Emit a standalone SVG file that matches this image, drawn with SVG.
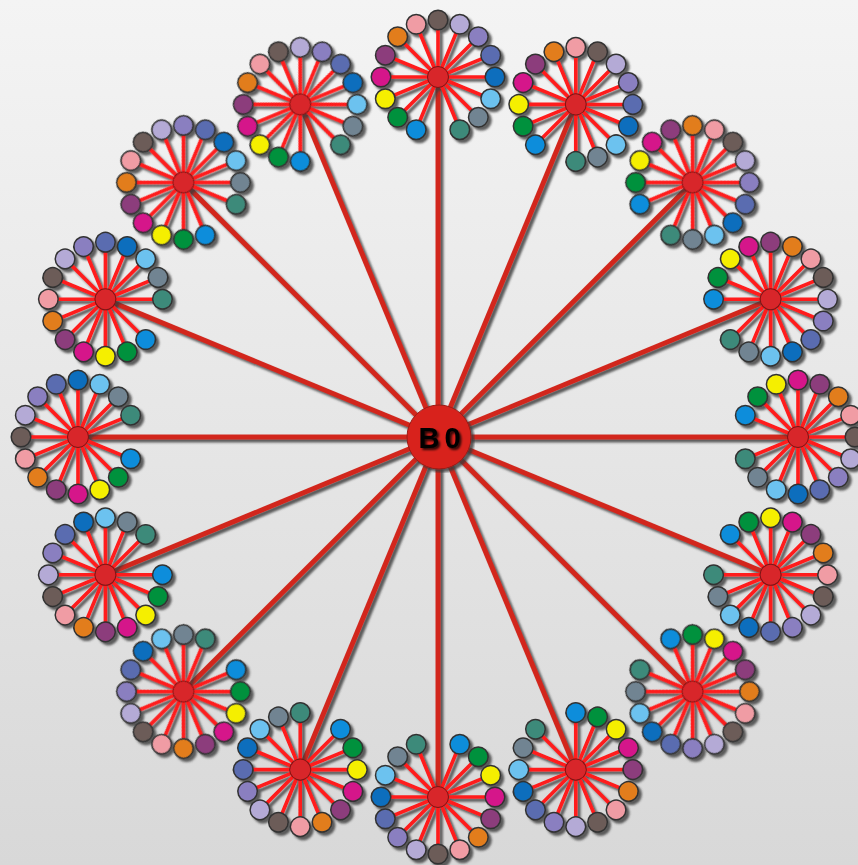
<svg xmlns="http://www.w3.org/2000/svg" width="858" height="865" viewBox="0 0 858 865">
<style>
.sp{stroke:#d2281e;stroke-width:5;fill:none}
.ll{stroke:#ff1a1a;stroke-width:3.6;fill:none}
.hubc{fill:#d8262a;stroke:#7a1414;stroke-width:1}
.lf{stroke:#333;stroke-width:1.5}
.l1{fill:#0a8ddb}.l2{fill:#00913c}.l3{fill:#f5ef00}.l4{fill:#d5168a}.l5{fill:#8c3c7c}
.l6{fill:#e27d1e}.l7{fill:#f09ca4}.l8{fill:#6c5c58}.l9{fill:#b4aad6}.l10{fill:#8a7fc0}
.l11{fill:#5a6cb0}.l12{fill:#0a6ebd}.l13{fill:#6cc2ef}.l14{fill:#718492}.l15{fill:#3e8a7a}
.lbl{font-family:"Liberation Sans",Arial,sans-serif;font-weight:bold;font-size:29px;fill:#000;letter-spacing:5px}
</style>
<defs>
<linearGradient id="bg" x1="0" y1="0" x2="0" y2="1">
<stop offset="0" stop-color="#f4f4f4"/>
<stop offset="1" stop-color="#d8d8d8"/>
</linearGradient>
<filter id="sh" x="-5%" y="-5%" width="110%" height="110%">
<feGaussianBlur in="SourceAlpha" stdDeviation="1.2"/>
<feOffset dx="2.8" dy="2.8" result="o"/>
<feFlood flood-color="#3a3a3a" flood-opacity="0.8"/>
<feComposite in2="o" operator="in"/>
<feMerge><feMergeNode/><feMergeNode in="SourceGraphic"/></feMerge>
</filter>
<filter id="tsh" x="-20%" y="-20%" width="140%" height="140%">
<feGaussianBlur in="SourceAlpha" stdDeviation="1.2"/>
<feOffset dx="1.5" dy="1.5" result="o"/>
<feFlood flood-color="#000" flood-opacity="0.8"/>
<feComposite in2="o" operator="in"/>
<feMerge><feMergeNode/><feMergeNode in="SourceGraphic"/></feMerge>
</filter>
</defs>
<rect width="858" height="865" fill="url(#bg)"/>
<g id="connectors" filter="url(#sh)">
<line class="sp" x1="438" y1="437" x2="438" y2="77"/>
<line class="sp" x1="438" y1="437" x2="575.77" y2="104.4"/>
<line class="sp" x1="438" y1="437" x2="692.56" y2="182.44"/>
<line class="sp" x1="438" y1="437" x2="770.6" y2="299.23"/>
<line class="sp" x1="438" y1="437" x2="798" y2="437"/>
<line class="sp" x1="438" y1="437" x2="770.6" y2="574.77"/>
<line class="sp" x1="438" y1="437" x2="692.56" y2="691.56"/>
<line class="sp" x1="438" y1="437" x2="575.77" y2="769.6"/>
<line class="sp" x1="438" y1="437" x2="438" y2="797"/>
<line class="sp" x1="438" y1="437" x2="300.23" y2="769.6"/>
<line class="sp" x1="438" y1="437" x2="183.44" y2="691.56"/>
<line class="sp" x1="438" y1="437" x2="105.4" y2="574.77"/>
<line class="sp" x1="438" y1="437" x2="78" y2="437"/>
<line class="sp" x1="438" y1="437" x2="105.4" y2="299.23"/>
<line class="sp" x1="438" y1="437" x2="183.44" y2="182.44"/>
<line class="sp" x1="438" y1="437" x2="300.23" y2="104.4"/>
</g>
<g id="clusters" filter="url(#sh)">
<g id="hub0" transform="translate(438,77) rotate(0)">
<path class="ll" d="M0 0L-21.8 52.7M0 0L-40.3 40.3M0 0L-52.7 21.8M0 0L-57 0M0 0L-52.7 -21.8M0 0L-40.3 -40.3M0 0L-21.8 -52.7M0 0L0 -57M0 0L21.8 -52.7M0 0L40.3 -40.3M0 0L52.7 -21.8M0 0L57 0M0 0L52.7 21.8M0 0L40.3 40.3M0 0L21.8 52.7"/>
<circle class="lf l1" cx="-21.8" cy="52.7" r="9.8"/><circle class="lf l2" cx="-40.3" cy="40.3" r="9.8"/><circle class="lf l3" cx="-52.7" cy="21.8" r="9.8"/><circle class="lf l4" cx="-57" cy="0" r="9.8"/><circle class="lf l5" cx="-52.7" cy="-21.8" r="9.8"/><circle class="lf l6" cx="-40.3" cy="-40.3" r="9.8"/><circle class="lf l7" cx="-21.8" cy="-52.7" r="9.8"/><circle class="lf l8" cx="0" cy="-57" r="9.8"/><circle class="lf l9" cx="21.8" cy="-52.7" r="9.8"/><circle class="lf l10" cx="40.3" cy="-40.3" r="9.8"/><circle class="lf l11" cx="52.7" cy="-21.8" r="9.8"/><circle class="lf l12" cx="57" cy="0" r="9.8"/><circle class="lf l13" cx="52.7" cy="21.8" r="9.8"/><circle class="lf l14" cx="40.3" cy="40.3" r="9.8"/><circle class="lf l15" cx="21.8" cy="52.7" r="9.8"/>
<circle class="hubc" cx="0" cy="0" r="10.5"/>
</g>
<g id="hub1" transform="translate(575.77,104.4) rotate(22.5)">
<path class="ll" d="M0 0L-21.8 52.7M0 0L-40.3 40.3M0 0L-52.7 21.8M0 0L-57 0M0 0L-52.7 -21.8M0 0L-40.3 -40.3M0 0L-21.8 -52.7M0 0L0 -57M0 0L21.8 -52.7M0 0L40.3 -40.3M0 0L52.7 -21.8M0 0L57 0M0 0L52.7 21.8M0 0L40.3 40.3M0 0L21.8 52.7"/>
<circle class="lf l1" cx="-21.8" cy="52.7" r="9.8"/><circle class="lf l2" cx="-40.3" cy="40.3" r="9.8"/><circle class="lf l3" cx="-52.7" cy="21.8" r="9.8"/><circle class="lf l4" cx="-57" cy="0" r="9.8"/><circle class="lf l5" cx="-52.7" cy="-21.8" r="9.8"/><circle class="lf l6" cx="-40.3" cy="-40.3" r="9.8"/><circle class="lf l7" cx="-21.8" cy="-52.7" r="9.8"/><circle class="lf l8" cx="0" cy="-57" r="9.8"/><circle class="lf l9" cx="21.8" cy="-52.7" r="9.8"/><circle class="lf l10" cx="40.3" cy="-40.3" r="9.8"/><circle class="lf l11" cx="52.7" cy="-21.8" r="9.8"/><circle class="lf l12" cx="57" cy="0" r="9.8"/><circle class="lf l13" cx="52.7" cy="21.8" r="9.8"/><circle class="lf l14" cx="40.3" cy="40.3" r="9.8"/><circle class="lf l15" cx="21.8" cy="52.7" r="9.8"/>
<circle class="hubc" cx="0" cy="0" r="10.5"/>
</g>
<g id="hub2" transform="translate(692.56,182.44) rotate(45)">
<path class="ll" d="M0 0L-21.8 52.7M0 0L-40.3 40.3M0 0L-52.7 21.8M0 0L-57 0M0 0L-52.7 -21.8M0 0L-40.3 -40.3M0 0L-21.8 -52.7M0 0L0 -57M0 0L21.8 -52.7M0 0L40.3 -40.3M0 0L52.7 -21.8M0 0L57 0M0 0L52.7 21.8M0 0L40.3 40.3M0 0L21.8 52.7"/>
<circle class="lf l1" cx="-21.8" cy="52.7" r="9.8"/><circle class="lf l2" cx="-40.3" cy="40.3" r="9.8"/><circle class="lf l3" cx="-52.7" cy="21.8" r="9.8"/><circle class="lf l4" cx="-57" cy="0" r="9.8"/><circle class="lf l5" cx="-52.7" cy="-21.8" r="9.8"/><circle class="lf l6" cx="-40.3" cy="-40.3" r="9.8"/><circle class="lf l7" cx="-21.8" cy="-52.7" r="9.8"/><circle class="lf l8" cx="0" cy="-57" r="9.8"/><circle class="lf l9" cx="21.8" cy="-52.7" r="9.8"/><circle class="lf l10" cx="40.3" cy="-40.3" r="9.8"/><circle class="lf l11" cx="52.7" cy="-21.8" r="9.8"/><circle class="lf l12" cx="57" cy="0" r="9.8"/><circle class="lf l13" cx="52.7" cy="21.8" r="9.8"/><circle class="lf l14" cx="40.3" cy="40.3" r="9.8"/><circle class="lf l15" cx="21.8" cy="52.7" r="9.8"/>
<circle class="hubc" cx="0" cy="0" r="10.5"/>
</g>
<g id="hub3" transform="translate(770.6,299.23) rotate(67.5)">
<path class="ll" d="M0 0L-21.8 52.7M0 0L-40.3 40.3M0 0L-52.7 21.8M0 0L-57 0M0 0L-52.7 -21.8M0 0L-40.3 -40.3M0 0L-21.8 -52.7M0 0L0 -57M0 0L21.8 -52.7M0 0L40.3 -40.3M0 0L52.7 -21.8M0 0L57 0M0 0L52.7 21.8M0 0L40.3 40.3M0 0L21.8 52.7"/>
<circle class="lf l1" cx="-21.8" cy="52.7" r="9.8"/><circle class="lf l2" cx="-40.3" cy="40.3" r="9.8"/><circle class="lf l3" cx="-52.7" cy="21.8" r="9.8"/><circle class="lf l4" cx="-57" cy="0" r="9.8"/><circle class="lf l5" cx="-52.7" cy="-21.8" r="9.8"/><circle class="lf l6" cx="-40.3" cy="-40.3" r="9.8"/><circle class="lf l7" cx="-21.8" cy="-52.7" r="9.8"/><circle class="lf l8" cx="0" cy="-57" r="9.8"/><circle class="lf l9" cx="21.8" cy="-52.7" r="9.8"/><circle class="lf l10" cx="40.3" cy="-40.3" r="9.8"/><circle class="lf l11" cx="52.7" cy="-21.8" r="9.8"/><circle class="lf l12" cx="57" cy="0" r="9.8"/><circle class="lf l13" cx="52.7" cy="21.8" r="9.8"/><circle class="lf l14" cx="40.3" cy="40.3" r="9.8"/><circle class="lf l15" cx="21.8" cy="52.7" r="9.8"/>
<circle class="hubc" cx="0" cy="0" r="10.5"/>
</g>
<g id="hub4" transform="translate(798,437) rotate(90)">
<path class="ll" d="M0 0L-21.8 52.7M0 0L-40.3 40.3M0 0L-52.7 21.8M0 0L-57 0M0 0L-52.7 -21.8M0 0L-40.3 -40.3M0 0L-21.8 -52.7M0 0L0 -57M0 0L21.8 -52.7M0 0L40.3 -40.3M0 0L52.7 -21.8M0 0L57 0M0 0L52.7 21.8M0 0L40.3 40.3M0 0L21.8 52.7"/>
<circle class="lf l1" cx="-21.8" cy="52.7" r="9.8"/><circle class="lf l2" cx="-40.3" cy="40.3" r="9.8"/><circle class="lf l3" cx="-52.7" cy="21.8" r="9.8"/><circle class="lf l4" cx="-57" cy="0" r="9.8"/><circle class="lf l5" cx="-52.7" cy="-21.8" r="9.8"/><circle class="lf l6" cx="-40.3" cy="-40.3" r="9.8"/><circle class="lf l7" cx="-21.8" cy="-52.7" r="9.8"/><circle class="lf l8" cx="0" cy="-57" r="9.8"/><circle class="lf l9" cx="21.8" cy="-52.7" r="9.8"/><circle class="lf l10" cx="40.3" cy="-40.3" r="9.8"/><circle class="lf l11" cx="52.7" cy="-21.8" r="9.8"/><circle class="lf l12" cx="57" cy="0" r="9.8"/><circle class="lf l13" cx="52.7" cy="21.8" r="9.8"/><circle class="lf l14" cx="40.3" cy="40.3" r="9.8"/><circle class="lf l15" cx="21.8" cy="52.7" r="9.8"/>
<circle class="hubc" cx="0" cy="0" r="10.5"/>
</g>
<g id="hub5" transform="translate(770.6,574.77) rotate(112.5)">
<path class="ll" d="M0 0L-21.8 52.7M0 0L-40.3 40.3M0 0L-52.7 21.8M0 0L-57 0M0 0L-52.7 -21.8M0 0L-40.3 -40.3M0 0L-21.8 -52.7M0 0L0 -57M0 0L21.8 -52.7M0 0L40.3 -40.3M0 0L52.7 -21.8M0 0L57 0M0 0L52.7 21.8M0 0L40.3 40.3M0 0L21.8 52.7"/>
<circle class="lf l1" cx="-21.8" cy="52.7" r="9.8"/><circle class="lf l2" cx="-40.3" cy="40.3" r="9.8"/><circle class="lf l3" cx="-52.7" cy="21.8" r="9.8"/><circle class="lf l4" cx="-57" cy="0" r="9.8"/><circle class="lf l5" cx="-52.7" cy="-21.8" r="9.8"/><circle class="lf l6" cx="-40.3" cy="-40.3" r="9.8"/><circle class="lf l7" cx="-21.8" cy="-52.7" r="9.8"/><circle class="lf l8" cx="0" cy="-57" r="9.8"/><circle class="lf l9" cx="21.8" cy="-52.7" r="9.8"/><circle class="lf l10" cx="40.3" cy="-40.3" r="9.8"/><circle class="lf l11" cx="52.7" cy="-21.8" r="9.8"/><circle class="lf l12" cx="57" cy="0" r="9.8"/><circle class="lf l13" cx="52.7" cy="21.8" r="9.8"/><circle class="lf l14" cx="40.3" cy="40.3" r="9.8"/><circle class="lf l15" cx="21.8" cy="52.7" r="9.8"/>
<circle class="hubc" cx="0" cy="0" r="10.5"/>
</g>
<g id="hub6" transform="translate(692.56,691.56) rotate(135)">
<path class="ll" d="M0 0L-21.8 52.7M0 0L-40.3 40.3M0 0L-52.7 21.8M0 0L-57 0M0 0L-52.7 -21.8M0 0L-40.3 -40.3M0 0L-21.8 -52.7M0 0L0 -57M0 0L21.8 -52.7M0 0L40.3 -40.3M0 0L52.7 -21.8M0 0L57 0M0 0L52.7 21.8M0 0L40.3 40.3M0 0L21.8 52.7"/>
<circle class="lf l1" cx="-21.8" cy="52.7" r="9.8"/><circle class="lf l2" cx="-40.3" cy="40.3" r="9.8"/><circle class="lf l3" cx="-52.7" cy="21.8" r="9.8"/><circle class="lf l4" cx="-57" cy="0" r="9.8"/><circle class="lf l5" cx="-52.7" cy="-21.8" r="9.8"/><circle class="lf l6" cx="-40.3" cy="-40.3" r="9.8"/><circle class="lf l7" cx="-21.8" cy="-52.7" r="9.8"/><circle class="lf l8" cx="0" cy="-57" r="9.8"/><circle class="lf l9" cx="21.8" cy="-52.7" r="9.8"/><circle class="lf l10" cx="40.3" cy="-40.3" r="9.8"/><circle class="lf l11" cx="52.7" cy="-21.8" r="9.8"/><circle class="lf l12" cx="57" cy="0" r="9.8"/><circle class="lf l13" cx="52.7" cy="21.8" r="9.8"/><circle class="lf l14" cx="40.3" cy="40.3" r="9.8"/><circle class="lf l15" cx="21.8" cy="52.7" r="9.8"/>
<circle class="hubc" cx="0" cy="0" r="10.5"/>
</g>
<g id="hub7" transform="translate(575.77,769.6) rotate(157.5)">
<path class="ll" d="M0 0L-21.8 52.7M0 0L-40.3 40.3M0 0L-52.7 21.8M0 0L-57 0M0 0L-52.7 -21.8M0 0L-40.3 -40.3M0 0L-21.8 -52.7M0 0L0 -57M0 0L21.8 -52.7M0 0L40.3 -40.3M0 0L52.7 -21.8M0 0L57 0M0 0L52.7 21.8M0 0L40.3 40.3M0 0L21.8 52.7"/>
<circle class="lf l1" cx="-21.8" cy="52.7" r="9.8"/><circle class="lf l2" cx="-40.3" cy="40.3" r="9.8"/><circle class="lf l3" cx="-52.7" cy="21.8" r="9.8"/><circle class="lf l4" cx="-57" cy="0" r="9.8"/><circle class="lf l5" cx="-52.7" cy="-21.8" r="9.8"/><circle class="lf l6" cx="-40.3" cy="-40.3" r="9.8"/><circle class="lf l7" cx="-21.8" cy="-52.7" r="9.8"/><circle class="lf l8" cx="0" cy="-57" r="9.8"/><circle class="lf l9" cx="21.8" cy="-52.7" r="9.8"/><circle class="lf l10" cx="40.3" cy="-40.3" r="9.8"/><circle class="lf l11" cx="52.7" cy="-21.8" r="9.8"/><circle class="lf l12" cx="57" cy="0" r="9.8"/><circle class="lf l13" cx="52.7" cy="21.8" r="9.8"/><circle class="lf l14" cx="40.3" cy="40.3" r="9.8"/><circle class="lf l15" cx="21.8" cy="52.7" r="9.8"/>
<circle class="hubc" cx="0" cy="0" r="10.5"/>
</g>
<g id="hub8" transform="translate(438,797) rotate(180)">
<path class="ll" d="M0 0L-21.8 52.7M0 0L-40.3 40.3M0 0L-52.7 21.8M0 0L-57 0M0 0L-52.7 -21.8M0 0L-40.3 -40.3M0 0L-21.8 -52.7M0 0L0 -57M0 0L21.8 -52.7M0 0L40.3 -40.3M0 0L52.7 -21.8M0 0L57 0M0 0L52.7 21.8M0 0L40.3 40.3M0 0L21.8 52.7"/>
<circle class="lf l1" cx="-21.8" cy="52.7" r="9.8"/><circle class="lf l2" cx="-40.3" cy="40.3" r="9.8"/><circle class="lf l3" cx="-52.7" cy="21.8" r="9.8"/><circle class="lf l4" cx="-57" cy="0" r="9.8"/><circle class="lf l5" cx="-52.7" cy="-21.8" r="9.8"/><circle class="lf l6" cx="-40.3" cy="-40.3" r="9.8"/><circle class="lf l7" cx="-21.8" cy="-52.7" r="9.8"/><circle class="lf l8" cx="0" cy="-57" r="9.8"/><circle class="lf l9" cx="21.8" cy="-52.7" r="9.8"/><circle class="lf l10" cx="40.3" cy="-40.3" r="9.8"/><circle class="lf l11" cx="52.7" cy="-21.8" r="9.8"/><circle class="lf l12" cx="57" cy="0" r="9.8"/><circle class="lf l13" cx="52.7" cy="21.8" r="9.8"/><circle class="lf l14" cx="40.3" cy="40.3" r="9.8"/><circle class="lf l15" cx="21.8" cy="52.7" r="9.8"/>
<circle class="hubc" cx="0" cy="0" r="10.5"/>
</g>
<g id="hub9" transform="translate(300.23,769.6) rotate(202.5)">
<path class="ll" d="M0 0L-21.8 52.7M0 0L-40.3 40.3M0 0L-52.7 21.8M0 0L-57 0M0 0L-52.7 -21.8M0 0L-40.3 -40.3M0 0L-21.8 -52.7M0 0L0 -57M0 0L21.8 -52.7M0 0L40.3 -40.3M0 0L52.7 -21.8M0 0L57 0M0 0L52.7 21.8M0 0L40.3 40.3M0 0L21.8 52.7"/>
<circle class="lf l1" cx="-21.8" cy="52.7" r="9.8"/><circle class="lf l2" cx="-40.3" cy="40.3" r="9.8"/><circle class="lf l3" cx="-52.7" cy="21.8" r="9.8"/><circle class="lf l4" cx="-57" cy="0" r="9.8"/><circle class="lf l5" cx="-52.7" cy="-21.8" r="9.8"/><circle class="lf l6" cx="-40.3" cy="-40.3" r="9.8"/><circle class="lf l7" cx="-21.8" cy="-52.7" r="9.8"/><circle class="lf l8" cx="0" cy="-57" r="9.8"/><circle class="lf l9" cx="21.8" cy="-52.7" r="9.8"/><circle class="lf l10" cx="40.3" cy="-40.3" r="9.8"/><circle class="lf l11" cx="52.7" cy="-21.8" r="9.8"/><circle class="lf l12" cx="57" cy="0" r="9.8"/><circle class="lf l13" cx="52.7" cy="21.8" r="9.8"/><circle class="lf l14" cx="40.3" cy="40.3" r="9.8"/><circle class="lf l15" cx="21.8" cy="52.7" r="9.8"/>
<circle class="hubc" cx="0" cy="0" r="10.5"/>
</g>
<g id="hub10" transform="translate(183.44,691.56) rotate(225)">
<path class="ll" d="M0 0L-21.8 52.7M0 0L-40.3 40.3M0 0L-52.7 21.8M0 0L-57 0M0 0L-52.7 -21.8M0 0L-40.3 -40.3M0 0L-21.8 -52.7M0 0L0 -57M0 0L21.8 -52.7M0 0L40.3 -40.3M0 0L52.7 -21.8M0 0L57 0M0 0L52.7 21.8M0 0L40.3 40.3M0 0L21.8 52.7"/>
<circle class="lf l1" cx="-21.8" cy="52.7" r="9.8"/><circle class="lf l2" cx="-40.3" cy="40.3" r="9.8"/><circle class="lf l3" cx="-52.7" cy="21.8" r="9.8"/><circle class="lf l4" cx="-57" cy="0" r="9.8"/><circle class="lf l5" cx="-52.7" cy="-21.8" r="9.8"/><circle class="lf l6" cx="-40.3" cy="-40.3" r="9.8"/><circle class="lf l7" cx="-21.8" cy="-52.7" r="9.8"/><circle class="lf l8" cx="0" cy="-57" r="9.8"/><circle class="lf l9" cx="21.8" cy="-52.7" r="9.8"/><circle class="lf l10" cx="40.3" cy="-40.3" r="9.8"/><circle class="lf l11" cx="52.7" cy="-21.8" r="9.8"/><circle class="lf l12" cx="57" cy="0" r="9.8"/><circle class="lf l13" cx="52.7" cy="21.8" r="9.8"/><circle class="lf l14" cx="40.3" cy="40.3" r="9.8"/><circle class="lf l15" cx="21.8" cy="52.7" r="9.8"/>
<circle class="hubc" cx="0" cy="0" r="10.5"/>
</g>
<g id="hub11" transform="translate(105.4,574.77) rotate(247.5)">
<path class="ll" d="M0 0L-21.8 52.7M0 0L-40.3 40.3M0 0L-52.7 21.8M0 0L-57 0M0 0L-52.7 -21.8M0 0L-40.3 -40.3M0 0L-21.8 -52.7M0 0L0 -57M0 0L21.8 -52.7M0 0L40.3 -40.3M0 0L52.7 -21.8M0 0L57 0M0 0L52.7 21.8M0 0L40.3 40.3M0 0L21.8 52.7"/>
<circle class="lf l1" cx="-21.8" cy="52.7" r="9.8"/><circle class="lf l2" cx="-40.3" cy="40.3" r="9.8"/><circle class="lf l3" cx="-52.7" cy="21.8" r="9.8"/><circle class="lf l4" cx="-57" cy="0" r="9.8"/><circle class="lf l5" cx="-52.7" cy="-21.8" r="9.8"/><circle class="lf l6" cx="-40.3" cy="-40.3" r="9.8"/><circle class="lf l7" cx="-21.8" cy="-52.7" r="9.8"/><circle class="lf l8" cx="0" cy="-57" r="9.8"/><circle class="lf l9" cx="21.8" cy="-52.7" r="9.8"/><circle class="lf l10" cx="40.3" cy="-40.3" r="9.8"/><circle class="lf l11" cx="52.7" cy="-21.8" r="9.8"/><circle class="lf l12" cx="57" cy="0" r="9.8"/><circle class="lf l13" cx="52.7" cy="21.8" r="9.8"/><circle class="lf l14" cx="40.3" cy="40.3" r="9.8"/><circle class="lf l15" cx="21.8" cy="52.7" r="9.8"/>
<circle class="hubc" cx="0" cy="0" r="10.5"/>
</g>
<g id="hub12" transform="translate(78,437) rotate(270)">
<path class="ll" d="M0 0L-21.8 52.7M0 0L-40.3 40.3M0 0L-52.7 21.8M0 0L-57 0M0 0L-52.7 -21.8M0 0L-40.3 -40.3M0 0L-21.8 -52.7M0 0L0 -57M0 0L21.8 -52.7M0 0L40.3 -40.3M0 0L52.7 -21.8M0 0L57 0M0 0L52.7 21.8M0 0L40.3 40.3M0 0L21.8 52.7"/>
<circle class="lf l1" cx="-21.8" cy="52.7" r="9.8"/><circle class="lf l2" cx="-40.3" cy="40.3" r="9.8"/><circle class="lf l3" cx="-52.7" cy="21.8" r="9.8"/><circle class="lf l4" cx="-57" cy="0" r="9.8"/><circle class="lf l5" cx="-52.7" cy="-21.8" r="9.8"/><circle class="lf l6" cx="-40.3" cy="-40.3" r="9.8"/><circle class="lf l7" cx="-21.8" cy="-52.7" r="9.8"/><circle class="lf l8" cx="0" cy="-57" r="9.8"/><circle class="lf l9" cx="21.8" cy="-52.7" r="9.8"/><circle class="lf l10" cx="40.3" cy="-40.3" r="9.8"/><circle class="lf l11" cx="52.7" cy="-21.8" r="9.8"/><circle class="lf l12" cx="57" cy="0" r="9.8"/><circle class="lf l13" cx="52.7" cy="21.8" r="9.8"/><circle class="lf l14" cx="40.3" cy="40.3" r="9.8"/><circle class="lf l15" cx="21.8" cy="52.7" r="9.8"/>
<circle class="hubc" cx="0" cy="0" r="10.5"/>
</g>
<g id="hub13" transform="translate(105.4,299.23) rotate(292.5)">
<path class="ll" d="M0 0L-21.8 52.7M0 0L-40.3 40.3M0 0L-52.7 21.8M0 0L-57 0M0 0L-52.7 -21.8M0 0L-40.3 -40.3M0 0L-21.8 -52.7M0 0L0 -57M0 0L21.8 -52.7M0 0L40.3 -40.3M0 0L52.7 -21.8M0 0L57 0M0 0L52.7 21.8M0 0L40.3 40.3M0 0L21.8 52.7"/>
<circle class="lf l1" cx="-21.8" cy="52.7" r="9.8"/><circle class="lf l2" cx="-40.3" cy="40.3" r="9.8"/><circle class="lf l3" cx="-52.7" cy="21.8" r="9.8"/><circle class="lf l4" cx="-57" cy="0" r="9.8"/><circle class="lf l5" cx="-52.7" cy="-21.8" r="9.8"/><circle class="lf l6" cx="-40.3" cy="-40.3" r="9.8"/><circle class="lf l7" cx="-21.8" cy="-52.7" r="9.8"/><circle class="lf l8" cx="0" cy="-57" r="9.8"/><circle class="lf l9" cx="21.8" cy="-52.7" r="9.8"/><circle class="lf l10" cx="40.3" cy="-40.3" r="9.8"/><circle class="lf l11" cx="52.7" cy="-21.8" r="9.8"/><circle class="lf l12" cx="57" cy="0" r="9.8"/><circle class="lf l13" cx="52.7" cy="21.8" r="9.8"/><circle class="lf l14" cx="40.3" cy="40.3" r="9.8"/><circle class="lf l15" cx="21.8" cy="52.7" r="9.8"/>
<circle class="hubc" cx="0" cy="0" r="10.5"/>
</g>
<g id="hub14" transform="translate(183.44,182.44) rotate(315)">
<path class="ll" d="M0 0L-21.8 52.7M0 0L-40.3 40.3M0 0L-52.7 21.8M0 0L-57 0M0 0L-52.7 -21.8M0 0L-40.3 -40.3M0 0L-21.8 -52.7M0 0L0 -57M0 0L21.8 -52.7M0 0L40.3 -40.3M0 0L52.7 -21.8M0 0L57 0M0 0L52.7 21.8M0 0L40.3 40.3M0 0L21.8 52.7"/>
<circle class="lf l1" cx="-21.8" cy="52.7" r="9.8"/><circle class="lf l2" cx="-40.3" cy="40.3" r="9.8"/><circle class="lf l3" cx="-52.7" cy="21.8" r="9.8"/><circle class="lf l4" cx="-57" cy="0" r="9.8"/><circle class="lf l5" cx="-52.7" cy="-21.8" r="9.8"/><circle class="lf l6" cx="-40.3" cy="-40.3" r="9.8"/><circle class="lf l7" cx="-21.8" cy="-52.7" r="9.8"/><circle class="lf l8" cx="0" cy="-57" r="9.8"/><circle class="lf l9" cx="21.8" cy="-52.7" r="9.8"/><circle class="lf l10" cx="40.3" cy="-40.3" r="9.8"/><circle class="lf l11" cx="52.7" cy="-21.8" r="9.8"/><circle class="lf l12" cx="57" cy="0" r="9.8"/><circle class="lf l13" cx="52.7" cy="21.8" r="9.8"/><circle class="lf l14" cx="40.3" cy="40.3" r="9.8"/><circle class="lf l15" cx="21.8" cy="52.7" r="9.8"/>
<circle class="hubc" cx="0" cy="0" r="10.5"/>
</g>
<g id="hub15" transform="translate(300.23,104.4) rotate(337.5)">
<path class="ll" d="M0 0L-21.8 52.7M0 0L-40.3 40.3M0 0L-52.7 21.8M0 0L-57 0M0 0L-52.7 -21.8M0 0L-40.3 -40.3M0 0L-21.8 -52.7M0 0L0 -57M0 0L21.8 -52.7M0 0L40.3 -40.3M0 0L52.7 -21.8M0 0L57 0M0 0L52.7 21.8M0 0L40.3 40.3M0 0L21.8 52.7"/>
<circle class="lf l1" cx="-21.8" cy="52.7" r="9.8"/><circle class="lf l2" cx="-40.3" cy="40.3" r="9.8"/><circle class="lf l3" cx="-52.7" cy="21.8" r="9.8"/><circle class="lf l4" cx="-57" cy="0" r="9.8"/><circle class="lf l5" cx="-52.7" cy="-21.8" r="9.8"/><circle class="lf l6" cx="-40.3" cy="-40.3" r="9.8"/><circle class="lf l7" cx="-21.8" cy="-52.7" r="9.8"/><circle class="lf l8" cx="0" cy="-57" r="9.8"/><circle class="lf l9" cx="21.8" cy="-52.7" r="9.8"/><circle class="lf l10" cx="40.3" cy="-40.3" r="9.8"/><circle class="lf l11" cx="52.7" cy="-21.8" r="9.8"/><circle class="lf l12" cx="57" cy="0" r="9.8"/><circle class="lf l13" cx="52.7" cy="21.8" r="9.8"/><circle class="lf l14" cx="40.3" cy="40.3" r="9.8"/><circle class="lf l15" cx="21.8" cy="52.7" r="9.8"/>
<circle class="hubc" cx="0" cy="0" r="10.5"/>
</g>
</g>
<g id="center-B0">
<circle cx="439" cy="437" r="32" fill="#d8231c" stroke="#9a1a14" stroke-width="1" filter="url(#sh)"/>
<text class="lbl" x="442" y="448" text-anchor="middle" filter="url(#tsh)">B0</text>
</g>
</svg>
